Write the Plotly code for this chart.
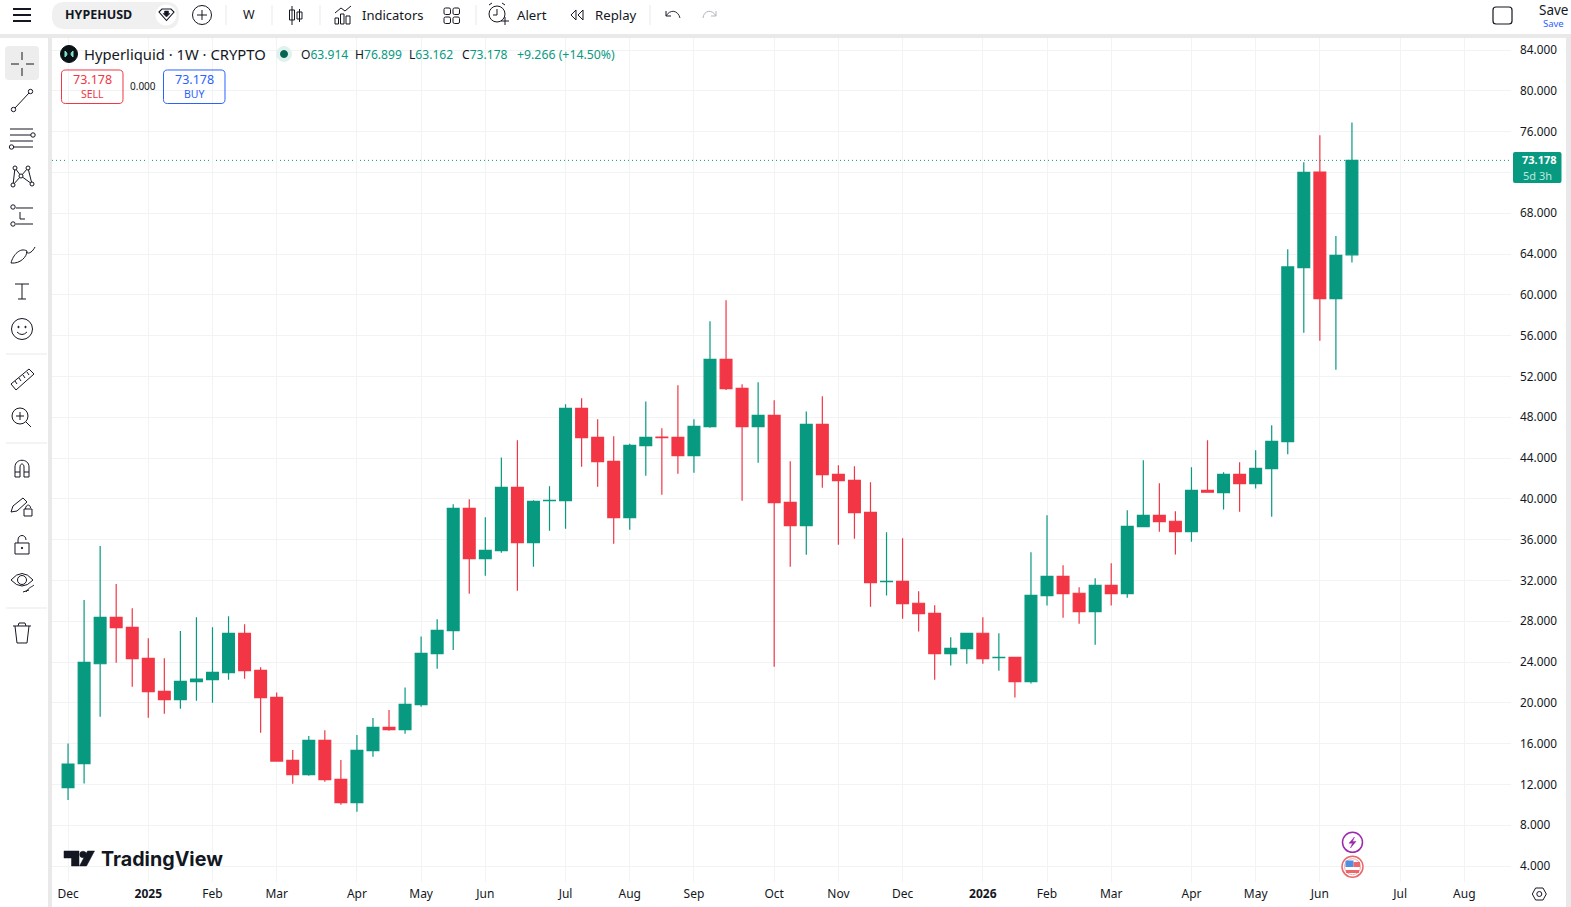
import plotly.graph_objects as go
import pandas as pd

# Weekly HYPE/USD candles
week_start = "2024-12-02"
opens = [11.68,14.03,23.83,28.38,27.40,24.36,21.12,20.31,22.07,22.27,22.95,26.81,23.18,20.53,14.36,12.95,16.32,12.49,10.21,15.31,17.59,17.36,19.82,24.82,27.07,39.06,34.13,34.91,41.12,35.70,39.82,39.82,48.87,46.03,43.67,38.15,45.21,46.06,46.03,44.23,47.07,53.67,50.83,47.07,48.18,39.65,37.37,47.30,42.40,41.81,38.67,31.88,31.91,29.76,28.77,24.82,25.31,26.82,24.43,24.46,22.08,30.51,32.40,30.74,28.94,31.52,30.70,37.27,38.38,37.80,36.78,40.83,40.61,42.40,41.49,42.96,45.60,62.66,72.04,59.62,63.914]
highs = [16.02,30.08,35.37,31.65,29.26,26.32,24.36,27.04,28.38,27.40,28.48,27.69,23.48,21.02,15.37,16.74,17.30,14.39,16.84,18.51,19.29,21.51,26.51,28.18,39.46,39.95,38.18,44.06,45.73,39.85,41.22,49.26,49.85,47.79,46.12,45.40,49.55,46.91,51.12,47.79,57.40,59.46,51.22,51.42,49.65,43.67,48.57,50.05,43.28,43.18,41.61,36.72,36.13,30.93,29.56,26.42,26.82,28.38,26.82,24.46,34.76,38.38,33.48,31.32,32.21,33.68,38.87,43.78,41.52,38.77,43.09,45.74,42.60,43.58,44.76,47.21,64.46,72.99,75.64,65.77,76.899]
lows = [10.47,12.10,18.64,23.93,21.58,18.54,18.93,19.42,20.21,20.01,22.27,22.36,17.07,14.23,12.07,12.85,12.27,10.01,9.32,14.72,17.27,16.97,19.62,23.34,25.18,30.70,32.46,34.72,30.99,33.35,36.87,37.07,43.15,41.19,35.60,36.97,42.27,40.40,42.46,42.56,46.97,50.67,39.82,43.54,23.54,33.35,34.52,41.09,35.50,36.09,29.42,30.51,28.25,26.98,22.27,23.65,23.84,23.84,23.15,20.51,21.88,29.53,28.35,27.76,25.70,29.53,30.31,37.27,36.78,34.53,35.80,40.64,38.94,38.74,41.00,38.25,44.36,56.29,55.50,52.66,63.162]
closes = [14.00,23.97,28.38,27.36,24.33,21.09,20.31,22.10,22.33,22.99,26.81,23.15,20.50,14.29,12.95,16.32,12.46,10.21,15.34,17.59,17.36,19.85,24.85,27.10,39.06,34.13,34.95,41.12,35.70,39.75,39.85,48.87,45.99,43.64,38.15,45.24,46.03,45.99,44.23,47.10,53.67,50.80,47.07,48.18,39.62,37.37,47.30,42.37,41.78,38.64,31.78,31.91,29.72,28.74,24.82,25.34,26.82,24.33,24.46,22.08,30.54,32.40,30.70,28.94,31.52,30.70,37.31,38.38,37.76,36.78,40.83,40.64,42.40,41.49,42.99,45.64,62.73,72.01,59.62,63.87,73.178]
weeks = pd.date_range(week_start, periods=len(closes), freq="7D")
change_text = "+9.266 (+14.50%)"

month_ticks = ["2024-12-02","2025-01-06","2025-02-03","2025-03-03","2025-04-07","2025-05-05","2025-06-02","2025-07-07","2025-08-04","2025-09-01","2025-10-06","2025-11-03","2025-12-01","2026-01-05","2026-02-02","2026-03-02","2026-04-06","2026-05-04","2026-06-01","2026-07-06","2026-08-03"]
month_labels = ["Dec","<b>2025</b>","Feb","Mar","Apr","May","Jun","Jul","Aug","Sep","Oct","Nov","Dec","<b>2026</b>","Feb","Mar","Apr","May","Jun","Jul","Aug"]
price_ticks = list(range(4, 88, 4))

W, H = 1571, 907
ML, MR, MT, MB = 52, 60, 38, 25
GREEN, RED, BLUE = "#089981", "#F23645", "#2962FF"
INK, GRID, RULE = "#131722", "#F2F3F5", "#E9E9E9"
FONT = "Noto Sans"


def X(px):
    return (px - ML) / (W - ML - MR)


def Y(py):
    return 1 - (py - MT) / (H - MT - MB)


shapes, notes = [], []


def path(d, line=INK, fill=None, w=1.0, layer="above"):
    """SVG-like path in screen pixels: command letters followed by x y pairs."""
    out, is_x = [], True
    for tok in d.split():
        if tok.isalpha():
            out.append(tok)
            is_x = True
        else:
            out.append(f"{X(float(tok)):.5f}" if is_x else f"{Y(float(tok)):.5f}")
            is_x = not is_x
    shapes.append(dict(type="path", xref="paper", yref="paper", path=" ".join(out),
                       line=dict(color=line, width=w), fillcolor=fill or "rgba(0,0,0,0)", layer=layer))


def seg(x0, y0, x1, y1, line=INK, w=1.0):
    path(f"M {x0} {y0} L {x1} {y1}", line, None, w)


def ring(cx, cy, r, line=INK, fill=None, w=1.0):
    shapes.append(dict(type="circle", xref="paper", yref="paper", x0=X(cx - r), x1=X(cx + r),
                       y0=Y(cy + r), y1=Y(cy - r), line=dict(color=line, width=w),
                       fillcolor=fill or "rgba(0,0,0,0)", layer="above"))


def box(x0, y0, x1, y1, line=INK, fill=None, w=1.0, r=0):
    if r:
        d = (f"M {x0+r} {y0} L {x1-r} {y0} Q {x1} {y0} {x1} {y0+r} L {x1} {y1-r} Q {x1} {y1} {x1-r} {y1} "
             f"L {x0+r} {y1} Q {x0} {y1} {x0} {y1-r} L {x0} {y0+r} Q {x0} {y0} {x0+r} {y0} Z")
    else:
        d = f"M {x0} {y0} L {x1} {y0} L {x1} {y1} L {x0} {y1} Z"
    path(d, line or "rgba(0,0,0,0)", fill, w if line else 0)


def label(x, y, text, size=13, color=INK, anchor="left", font=FONT):
    notes.append(dict(xref="paper", yref="paper", x=X(x), y=Y(y), text=text, showarrow=False,
                      xanchor=anchor, yanchor="middle", borderpad=0,
                      font=dict(family=font, size=size, color=color)))


# Panel dividers
box(0, 34, W, 38, None, RULE)
box(48, 38, 52, H, None, RULE)
box(1566, 38, W, H, None, RULE)

# Top toolbar
for yy in (9, 15, 21):
    seg(13, yy, 31, yy, INK, 2)
box(52, 2, 179, 29, None, "#F0F0F0", r=13)
label(64, 15, "<b>HYPEHUSD</b>", 12.5)
ring(166, 15, 10.5, "#FFFFFF", "#FFFFFF", 0)
path("M 159 12 L 162 9 L 171 9 L 174 12 L 166.5 20.5 Z", INK, None, 1.1)
path("M 164.5 11 L 168.5 11 L 168.5 13.5 L 170 13.5 L 166.5 17 L 163 13.5 L 164.5 13.5 Z", INK, INK, 0.5)
ring(202, 15, 9.5)
seg(197, 15, 207, 15)
seg(202, 10, 202, 20)
for sx in (226, 272, 320, 476, 650):
    seg(sx, 5, sx, 25, RULE, 1)
label(249, 15, "W", 12.5, anchor="center")
seg(292, 6, 292, 25)
box(289.5, 10, 294.5, 20)
seg(299.5, 9, 299.5, 22)
box(297, 12, 302, 19)
path("M 335 13 L 341 8 L 345 11 L 351 6")
box(335, 18, 338.5, 24)
box(340.5, 14, 344, 24)
box(346, 16, 350, 24)
label(360.5, 15, "Indicators", 13)
for gx in (444, 453):
    for gy in (8, 17):
        box(gx, gy, gx + 6.5, gy + 6.5, r=1.5)
ring(497, 14, 8)
path("M 497 9 L 497 15 L 493 15")
path("M 489 5 L 492 3")
path("M 505 5 L 502 3")
seg(501, 21, 509, 21)
seg(505, 17, 505, 25)
label(516, 15, "Alert", 13.2)
path("M 576 10 L 571 15 L 576 20 Z")
path("M 583 10 L 578 15 L 583 20 Z")
label(594, 15, "Replay", 13.2)
path("M 666 11 L 666 16 L 671 16")
path("M 666 16 C 670 9 678 10 680 18", "#2A2E39")
path("M 716 11 L 716 16 L 711 16", "#B2B5BE")
path("M 716 16 C 712 9 704 10 703 18", "#B2B5BE")
box(1493, 7, 1512, 24, INK, None, 1.2, r=3)
label(1553, 10, "Save", 13.5, anchor="center")
label(1553, 23, "Save", 9.5, BLUE, anchor="center")

# Drawing tools
box(5, 46, 39, 80, None, "#EDEDED", r=4)
seg(11, 64, 19, 64)
seg(26, 64, 34, 64)
seg(22, 52, 22, 60)
seg(22, 68, 22, 76)
seg(15, 108, 29, 93)
ring(13.5, 109.5, 2.2)
ring(30.5, 91.5, 2.2)
for yy in (129, 135, 141, 147):
    seg(10 if yy != 147 else 14, yy, 33 if yy != 135 else 31, yy)
ring(33, 135, 2.2)
ring(11.5, 147, 2.2)
path("M 13 185 L 15 168 L 21 176 L 28 168 L 32 184 L 21 176 Z")
for cx, cy in ((13, 185), (15, 168), (21, 176), (28, 168), (32, 184)):
    ring(cx, cy, 2, INK, "#FFFFFF")
seg(16, 208, 33, 208)
seg(16, 224, 33, 224)
ring(13, 207, 2.2)
ring(13, 224, 2.2)
path("M 20 212 L 20 219 L 25 219")
path("M 11 263 C 13 255 20 247 27 251 C 27 257 20 264 11 263 Z")
path("M 26 252 C 29 255 33 251 35 247")
path("M 15 284 L 29 284")
seg(22, 284, 22, 299)
seg(18, 299, 26, 299)
ring(22, 329, 10.5)
ring(18.5, 327, 0.7, INK, INK)
ring(25.5, 327, 0.7, INK, INK)
path("M 17 332 Q 22 337 27 332")
path("M 11 384 L 29 369 L 34 374 L 16 390 Z")
for t in ((15, 381, 17, 384), (19, 378, 21, 381), (23, 375, 25, 378), (27, 372, 29, 375)):
    seg(*t)
ring(20, 416, 8)
seg(16, 416, 24, 416)
seg(20, 412, 20, 420)
seg(26, 422, 31, 427)
path("M 15 477 L 15 467 C 15 458 29 458 29 467 L 29 477 L 24 477 L 24 467 C 24 463 20 463 20 467 L 20 477 Z")
seg(15, 472, 20, 472)
seg(24, 472, 29, 472)
path("M 11 512 L 13 506 L 23 498 L 27 502 L 17 511 Z")
box(24, 509, 32, 516)
path("M 25.5 509 C 25.5 504 30.5 504 30.5 508")
box(15, 543, 29, 554)
path("M 18 543 L 18 540 C 18 534 26 534 26 540")
ring(22, 548, 0.7, INK, INK)
path("M 11 580 Q 22 567 33 580 Q 22 592 11 580 Z")
ring(22, 580, 4.5)
path("M 26 592 C 29 587 32 587 34 585")
path("M 23 592 L 29 590")
seg(13, 626, 31, 626)
path("M 15 626 L 17 643 L 27 643 L 29 626")
path("M 18 626 L 19 623 L 25 623 L 26 626")
for yy in (354, 443, 608):
    seg(6, yy, 47, yy, RULE, 1)

# Series header
ring(69, 54, 8.5, "#0B1216", "#0B1216")
path("M 65 51 Q 69 54 65 57 Z", "#7FE3D0", "#7FE3D0")
path("M 73 51 Q 69 54 73 57 Z", "#7FE3D0", "#7FE3D0")
label(82.5, 54.5, "Hyperliquid · 1W · CRYPTO", 14.8)
ring(284, 54, 7.5, "#DFF2EE", "#DFF2EE")
ring(284, 54, 3.5, "#056656", "#056656")
header = [(300, "O", opens[-1]), (354, "H", highs[-1]), (408, "L", lows[-1]), (461, "C", closes[-1])]
for hx, key, val in header:
    label(hx, 54.5, f'{key}<span style="color:{GREEN}">{val:.3f}</span>', 12.1)
label(516, 54.5, change_text, 12.3, GREEN)

# Order buttons
box(61.5, 70, 123, 103.5, RED, None, 1, r=4)
label(92, 79.5, f"{closes[-1]:.3f}", 12.5, RED, "center")
label(92, 94, "SELL", 10.5, RED, "center")
label(143, 86.5, "0.000", 10, INK, "center")
box(163.5, 70, 225, 103.5, BLUE, None, 1, r=4)
label(194, 79.5, f"{closes[-1]:.3f}", 12.5, BLUE, "center")
label(194, 94, "BUY", 10.5, BLUE, "center")

# Watermark
path("M 64 851 L 79 851 L 79 866 L 71.5 866 L 71.5 858 L 64 858 Z", "#131722", "#131722", 0.5)
ring(83, 854.5, 3.3, "#131722", "#131722", 0.5)
path("M 87.5 851 L 94.5 851 L 86.5 866 L 79.5 866 Z", "#131722", "#131722", 0.5)
label(99.5, 858.7, "<b>TradingView</b>", 19.7, "#131722", font="Inter")

# Event markers
ring(1352.5, 842.3, 10, "#9C27B0", "#FFFFFF", 1.5)
path("M 1354.5 837 L 1349 843.2 L 1352.5 843.2 L 1350.5 848 L 1356 841.4 L 1352.5 841.4 Z", "#9C27B0", "#9C27B0", 0.5)
ring(1352.5, 866.7, 10.5, "#E9686C", "#FFFFFF", 1.5)
ring(1352.5, 866.7, 8, "#F4A9AB", "#FFFFFF", 1)
box(1345.5, 860.5, 1353.5, 867, None, "#4F8FE0")
box(1353.5, 862, 1360, 867, None, "#E9686C")
box(1346, 870, 1359, 873, None, "#E9686C")

# Last price tag
box(1513, 152, 1561.5, 183, None, GREEN, r=2)
label(1539, 159.6, f"<b>{closes[-1]:.3f}</b>", 11, "#FFFFFF", "center")
label(1537, 175.2, "5d 3h", 11, "#BCE8DE", "center")

# Axis settings glyph
path("M 1532.3 894 L 1535.6 888 L 1543 888 L 1546.3 894 L 1543 900 L 1535.6 900 Z")
ring(1539.3, 894, 2.5)

# Dotted line at the last close, tied to the price scale
shapes.append(dict(type="line", xref="paper", yref="y", x0=0, x1=1, y0=closes[-1], y1=closes[-1],
                   line=dict(color=GREEN, width=1, dash="1px,3px"), layer="below"))

fig = go.Figure(go.Candlestick(
    x=weeks, open=opens, high=highs, low=lows, close=closes,
    whiskerwidth=0,
    increasing=dict(line=dict(color=GREEN, width=1.2), fillcolor=GREEN),
    decreasing=dict(line=dict(color=RED, width=1.2), fillcolor=RED),
    hoverinfo="skip", showlegend=False,
))
fig.update_layout(
    autosize=False, width=W, height=H, margin=dict(l=ML, r=MR, t=MT, b=MB, pad=0, autoexpand=False),
    paper_bgcolor="#FFFFFF", plot_bgcolor="#FFFFFF", showlegend=False, boxgap=0.265, boxgroupgap=0,
    font=dict(family=FONT, size=12, color=INK), hovermode=False,
    shapes=shapes, annotations=notes,
    xaxis=dict(type="date", range=["2024-11-25 00:00", "2026-08-23 09:00"], rangeslider=dict(visible=False),
               tickmode="array", tickvals=month_ticks, ticktext=month_labels, tickangle=0,
               showgrid=True, gridcolor=GRID, gridwidth=1, zeroline=False, showline=False, ticks="",
               tickfont=dict(size=12, color=INK), ticklabelstandoff=3),
    yaxis=dict(side="right", range=[2.431, 85.176], tickmode="array", tickvals=price_ticks,
               tickformat=".3f", showgrid=True, gridcolor=GRID, gridwidth=1, zeroline=False,
               showline=False, ticks="", tickfont=dict(size=11.8, color=INK), ticklabelstandoff=8),
)
fig.write_html("out.html", config=dict(displayModeBar=False), default_width=f"{W}px", default_height=f"{H}px")
